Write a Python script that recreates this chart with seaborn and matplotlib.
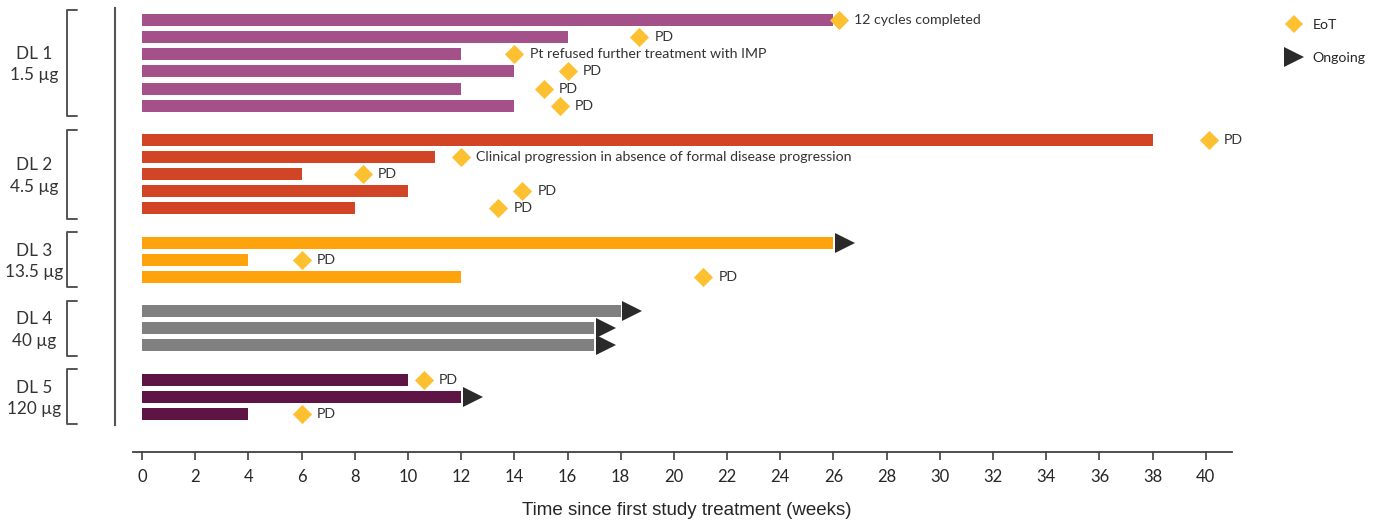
import numpy as np
import pandas as pd
import matplotlib
matplotlib.use("Agg")
import matplotlib.pyplot as plt
from matplotlib.lines import Line2D
from matplotlib.transforms import ScaledTranslation
import seaborn as sns

# ---- data -------------------------------------------------------------
dose_levels = ["DL 1", "DL 2", "DL 3", "DL 4", "DL 5"]
dose_amounts = ["1.5 µg", "4.5 µg", "13.5 µg", "40 µg", "120 µg"]
patients_per_level = [6, 5, 3, 3, 3]

weeks_on_treatment = [26, 16, 12, 14, 12, 14,
                      38, 11, 6, 10, 8,
                      26, 4, 12,
                      18, 17, 17,
                      10, 12, 4]
eot_week = [26.2, 18.7, 14.0, 16.0, 15.1, 15.7,
            40.1, 12.0, 8.3, 14.3, 13.4,
            np.nan, 6.0, 21.1,
            np.nan, np.nan, np.nan,
            10.6, np.nan, 6.0]
eot_reason = ["12 cycles completed", "PD", "Pt refused further treatment with IMP", "PD", "PD", "PD",
              "PD", "Clinical progression in absence of formal disease progression", "PD", "PD", "PD",
              "", "PD", "PD",
              "", "", "",
              "PD", "", "PD"]

level_colors = ["#A4518A", "#D14426", "#FFA30C", "#808080", "#5E1445"]
eot_color = "#FDC031"
ongoing_color = "#2A2A2A"
text_color = "#333333"

# ---- layout of rows: one blank row between dose levels ---------------
level_col, row_pos = [], []
row = 0
for g, n in enumerate(patients_per_level):
    for _ in range(n):
        level_col.append(dose_levels[g])
        row_pos.append(row)
        row += 1
    row += 1

df = pd.DataFrame({
    "dose_level": level_col,
    "row": row_pos,
    "weeks": weeks_on_treatment,
    "eot": eot_week,
    "reason": eot_reason,
})
df["ongoing"] = df["eot"].isna()

# ---- figure -------------------------------------------------------------
sns.set_style("white")
plt.rcParams["font.family"] = ["Lato", "DejaVu Sans"]

fig = plt.figure(figsize=(13.8, 5.24), dpi=100)
ax = fig.add_axes([0.0833, 0.1374, 0.8094, 0.8473])

sns.barplot(data=df, x="weeks", y="row", hue="dose_level", hue_order=dose_levels,
            palette=level_colors, orient="h", native_scale=True, dodge=False,
            errorbar=None, width=0.7, saturation=1, linewidth=0, legend=False, ax=ax)

# end-of-treatment diamonds
eot = df.dropna(subset=["eot"])
sns.scatterplot(data=eot, x="eot", y="row", marker="D", s=95, color=eot_color,
                linewidth=0, legend=False, zorder=3, ax=ax)
for _, r in eot.iterrows():
    ax.annotate(r["reason"], (r["eot"], r["row"]), xytext=(11, 0), textcoords="offset points",
                va="center", ha="left", fontsize=10.2, color=text_color)

# ongoing arrows, base touching the bar end
ong = df[df["ongoing"]]
arrow_ms = 14
shift = ScaledTranslation(arrow_ms / 2 / 72 + 0.02, 0, fig.dpi_scale_trans)
ax.plot(ong["weeks"], ong["row"], linestyle="none", marker=">", markersize=arrow_ms,
        color=ongoing_color, markeredgewidth=0, transform=ax.transData + shift,
        clip_on=False, zorder=3)

# ---- axes styling ------------------------------------------------------
last_row = max(row_pos)
ax.set_xlim(-1.015, 40.98)
ax.set_ylim(25.22, -0.70)
ax.set_xticks(np.arange(0, 41, 2))
ax.set_yticks([])
ax.set_xlabel("Time since first study treatment (weeks)", fontsize=13.5,
              family=["Liberation Sans", "DejaVu Sans"], color="#262626")
ax.set_ylabel("")
ax.xaxis.set_label_coords(0.512, -0.112)
ax.tick_params(axis="x", bottom=True, direction="out", length=6, width=1.2, color="#404040",
               labelsize=12, labelcolor="#262626", pad=6)

for side in ["top", "right"]:
    ax.spines[side].set_visible(False)
ax.spines["left"].set_bounds(-0.70, last_row + 0.64)
ax.spines["left"].set_color("#555555")
ax.spines["left"].set_linewidth(1.5)
ax.spines["bottom"].set_bounds(-0.34, 40.98)
ax.spines["bottom"].set_color("#404040")
ax.spines["bottom"].set_linewidth(1.3)

# dose-level brackets and labels left of the axis
ytrans = ax.get_yaxis_transform()
start = 0
for g, n in enumerate(patients_per_level):
    rows = df["row"].iloc[start:start + n]
    top, bot = rows.min() - 0.6, rows.max() + 0.6
    xl, xr = -0.043, -0.034
    ax.plot([xr, xl, xl, xr], [top, top, bot, bot], color="#555555", lw=1.4,
            transform=ytrans, clip_on=False)
    ax.text(-0.0725, (rows.min() + rows.max()) / 2 + 0.1, f"{dose_levels[g]}\n{dose_amounts[g]}",
            transform=ytrans, ha="center", va="center", fontsize=12.3,
            linespacing=1.45, color=text_color)
    start += n

# legend
handles = [
    Line2D([], [], linestyle="none", marker="D", markersize=9.5, color=eot_color,
           markeredgewidth=0, label="EoT"),
    Line2D([], [], linestyle="none", marker=">", markersize=14, color=ongoing_color,
           markeredgewidth=0, label="Ongoing"),
]
fig.legend(handles=handles, loc="upper left", bbox_to_anchor=(0.9277, 0.977), frameon=False,
           fontsize=10.2, handlelength=1.0, handletextpad=0.8, labelspacing=1.45, borderpad=0)

fig.savefig("out.png", dpi=100)
